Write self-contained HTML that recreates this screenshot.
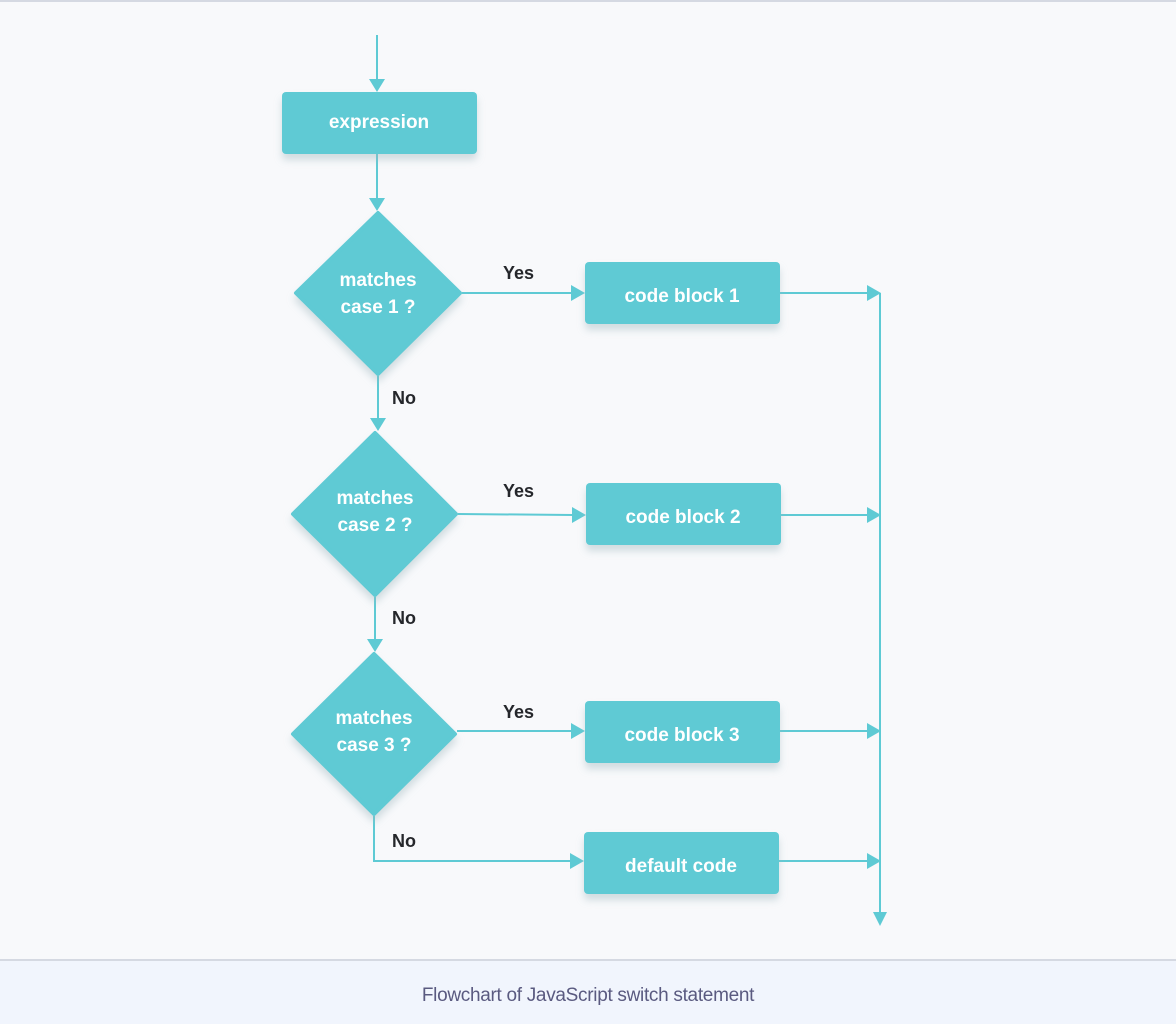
<!DOCTYPE html>
<html><head><meta charset="utf-8"><style>
html,body{margin:0;padding:0;width:1176px;height:1024px;overflow:hidden;background:#f8f9fb;font-family:"Liberation Sans",sans-serif;}
</style></head><body>
<svg width="1176" height="1024" viewBox="0 0 1176 1024" xmlns="http://www.w3.org/2000/svg">
<defs>
<filter id="sh" x="-20%" y="-20%" width="140%" height="160%"><feDropShadow dx="0" dy="6" stdDeviation="4" flood-color="#9fb8c0" flood-opacity="0.45"/></filter>
</defs>
<rect x="0" y="0" width="1176" height="1024" fill="#f8f9fb"/>
<rect x="0" y="0" width="1176" height="2" fill="#d5d9e2"/>
<rect x="0" y="959" width="1176" height="65" fill="#f1f5fd"/>
<rect x="0" y="959" width="1176" height="2" fill="#d5d9e2"/>
<text x="588" y="1001" text-anchor="middle" font-size="19" fill="#5a5a80" letter-spacing="-0.3">Flowchart of JavaScript switch statement</text>

<g stroke="#5ecad4" stroke-width="2" fill="none">
<line x1="377" y1="35" x2="377" y2="80"/>
<line x1="377" y1="154" x2="377" y2="200"/>
<line x1="462" y1="293" x2="572" y2="293"/>
<line x1="780" y1="293" x2="868" y2="293"/>
<line x1="378" y1="376" x2="378" y2="420"/>
<line x1="458" y1="514" x2="573" y2="515"/>
<line x1="781" y1="515" x2="868" y2="515"/>
<line x1="375" y1="597" x2="375" y2="640"/>
<line x1="457" y1="731" x2="572" y2="731"/>
<line x1="780" y1="731" x2="868" y2="731"/>
<polyline points="374,816 374,861 571,861"/>
<line x1="779" y1="861" x2="868" y2="861"/>
<line x1="880" y1="293" x2="880" y2="914"/>
</g>
<g fill="#5ecad4">
<polygon points="369,79 385,79 377,92"/>
<polygon points="369,198 385,198 377,211"/>
<polygon points="571,285 571,301 585,293"/>
<polygon points="867,285 867,301 881,293"/>
<polygon points="370,418 386,418 378,431"/>
<polygon points="572,507 572,523 586,515"/>
<polygon points="867,507 867,523 881,515"/>
<polygon points="367,639 383,639 375,652"/>
<polygon points="571,723 571,739 585,731"/>
<polygon points="867,723 867,739 881,731"/>
<polygon points="570,853 570,869 584,861"/>
<polygon points="867,853 867,869 881,861"/>
<polygon points="873,912 887,912 880,926"/>
</g>
<g fill="#5ecad4" filter="url(#sh)">
<rect x="282" y="92" width="195" height="62" rx="4"/>
<rect x="585" y="262" width="195" height="62" rx="4"/>
<rect x="586" y="483" width="195" height="62" rx="4"/>
<rect x="585" y="701" width="195" height="62" rx="4"/>
<rect x="584" y="832" width="195" height="62" rx="4"/>
<path d="M378 213 L460 293 L378 374 L296 293 Z" stroke="#5ecad4" stroke-width="4" stroke-linejoin="round"/>
<path d="M375 433 L456 514 L375 595 L293 514 Z" stroke="#5ecad4" stroke-width="4" stroke-linejoin="round"/>
<path d="M374 654 L455 734 L374 814 L293 734 Z" stroke="#5ecad4" stroke-width="4" stroke-linejoin="round"/>
</g>
<g fill="#ffffff" font-size="19" font-weight="bold" text-anchor="middle">
<text x="379" y="128">expression</text>
<text x="682" y="302">code block 1</text>
<text x="683" y="523">code block 2</text>
<text x="682" y="741">code block 3</text>
<text x="681" y="872">default code</text>
<text x="378" y="286">matches</text>
<text x="378" y="313">case 1 ?</text>
<text x="375" y="504">matches</text>
<text x="375" y="531">case 2 ?</text>
<text x="374" y="724">matches</text>
<text x="374" y="751">case 3 ?</text>
</g>
<g fill="#25272b" font-size="18" font-weight="bold">
<text x="503" y="279">Yes</text>
<text x="503" y="497">Yes</text>
<text x="503" y="718">Yes</text>
<text x="392" y="404">No</text>
<text x="392" y="624">No</text>
<text x="392" y="847">No</text>
</g>
</svg>
</body></html>
